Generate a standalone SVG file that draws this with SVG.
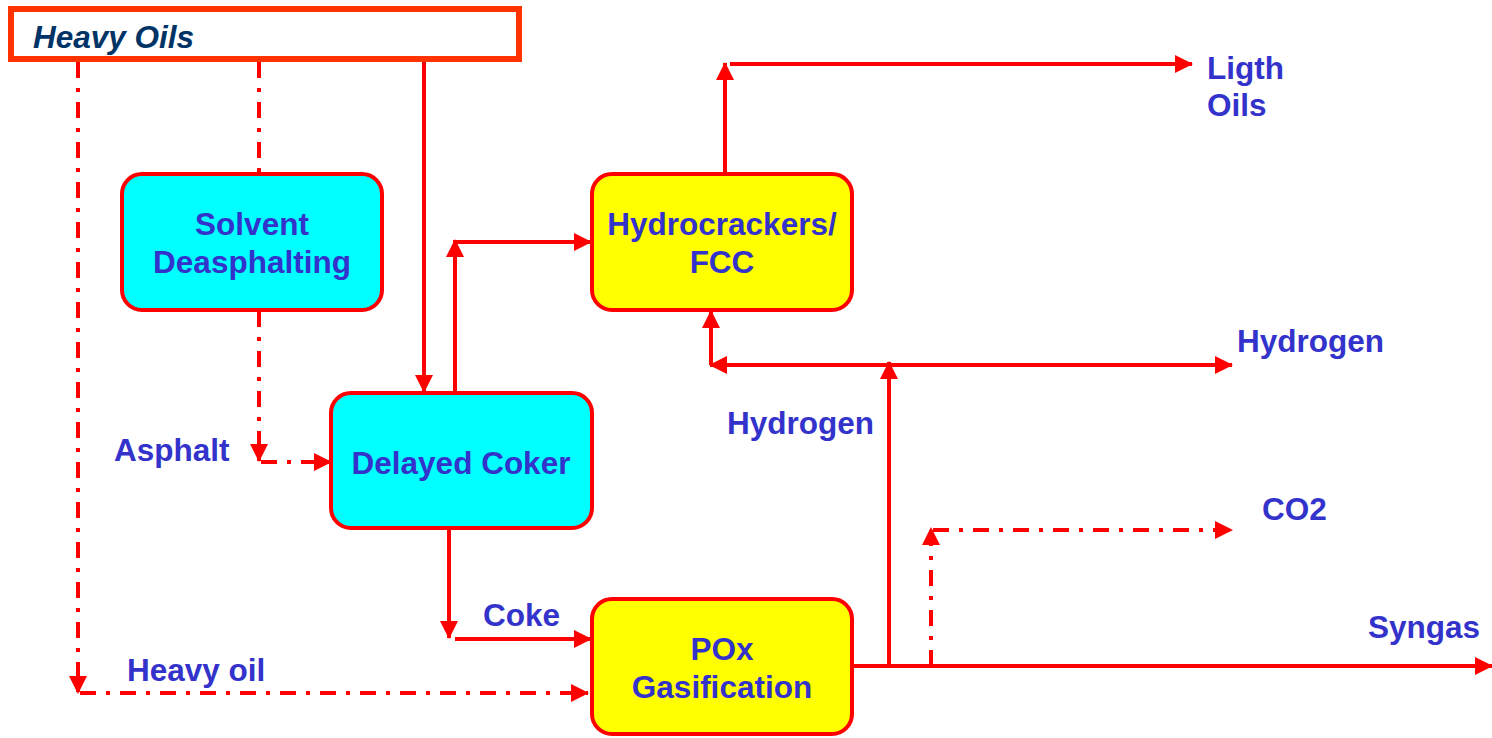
<svg xmlns="http://www.w3.org/2000/svg" width="1492" height="738" viewBox="0 0 1492 738">
<style>
.lbl{font-family:"Liberation Sans",Arial,sans-serif;font-weight:bold;font-size:31.5px;fill:#3333CC}
.box{stroke:#FF0000;stroke-width:4}
.c{fill:none;stroke:#FF0000;stroke-width:4}
.dd{stroke-dasharray:16 10 4 10}
</style>
<defs>
<marker id="ah" markerUnits="userSpaceOnUse" markerWidth="18" markerHeight="18" viewBox="0 0 18 18" refX="17" refY="9" orient="auto">
<path d="M0,0 L18,9 L0,18 Z" fill="#FF0000"/>
</marker>
</defs>
<g id="heavy-oils">
<rect x="11" y="9" width="508" height="50" fill="#FFFFFF" stroke="#FF3300" stroke-width="6"/>
<text x="33" y="48" font-family="Liberation Sans,Arial,sans-serif" font-weight="bold" font-style="italic" font-size="31.5" fill="#003366">Heavy Oils</text>
</g>
<g id="solvent-deasphalting">
<rect class="box" x="122" y="174" width="260" height="136" rx="20" fill="#00FFFF"/>
<text class="lbl" x="252" y="235" text-anchor="middle">Solvent</text>
<text class="lbl" x="252" y="273" text-anchor="middle">Deasphalting</text>
</g>
<g id="delayed-coker">
<rect class="box" x="331" y="393" width="261" height="135" rx="20" fill="#00FFFF"/>
<text class="lbl" x="461" y="474" text-anchor="middle">Delayed Coker</text>
</g>
<g id="hydrocrackers">
<rect class="box" x="592" y="174" width="260" height="136" rx="20" fill="#FFFF00"/>
<text class="lbl" x="722" y="235" text-anchor="middle">Hydrocrackers/</text>
<text class="lbl" x="722" y="273" text-anchor="middle">FCC</text>
</g>
<g id="pox-gasification">
<rect class="box" x="592" y="599" width="260" height="135" rx="20" fill="#FFFF00"/>
<text class="lbl" x="722" y="660" text-anchor="middle">POx</text>
<text class="lbl" x="722" y="698" text-anchor="middle">Gasification</text>
</g>
<g id="connectors">
<path class="c dd" d="M78,62 V693" marker-end="url(#ah)"/>
<path class="c dd" d="M80,693 H588" marker-end="url(#ah)"/>
<path class="c dd" d="M259,62 V174"/>
<path class="c dd" d="M259,311 V461" marker-end="url(#ah)"/>
<path class="c dd" d="M261,462 H331" marker-end="url(#ah)"/>
<path class="c" d="M424,62 V392" marker-end="url(#ah)"/>
<path class="c" d="M455,392 V240" marker-end="url(#ah)"/>
<path class="c" d="M457,242 H591" marker-end="url(#ah)"/>
<path class="c" d="M725,173 V63" marker-end="url(#ah)"/>
<path class="c" d="M730,64 H1192" marker-end="url(#ah)"/>
<path class="c" d="M449,530 V638" marker-end="url(#ah)"/>
<path class="c" d="M455,639 H591" marker-end="url(#ah)"/>
<path class="c" d="M852,666 H1492" marker-end="url(#ah)"/>
<path class="c" d="M889,666 V362" marker-end="url(#ah)"/>
<path class="c" d="M891,365 H1232" marker-end="url(#ah)"/>
<path class="c" d="M887,365 H710" marker-end="url(#ah)"/>
<path class="c" d="M711,365 V311" marker-end="url(#ah)"/>
<path class="c dd" d="M931,666 V528" marker-end="url(#ah)"/>
<path class="c dd" d="M933,530 H1232" marker-end="url(#ah)"/>
</g>
<g id="labels">
<text class="lbl" x="1207" y="79">Ligth</text>
<text class="lbl" x="1207" y="116">Oils</text>
<text class="lbl" x="1237" y="352">Hydrogen</text>
<text class="lbl" x="727" y="434">Hydrogen</text>
<text class="lbl" x="1262" y="520">CO2</text>
<text class="lbl" x="1368" y="638">Syngas</text>
<text class="lbl" x="483" y="626">Coke</text>
<text class="lbl" x="127" y="681">Heavy oil</text>
<text class="lbl" x="114" y="461">Asphalt</text>
</g>
</svg>
